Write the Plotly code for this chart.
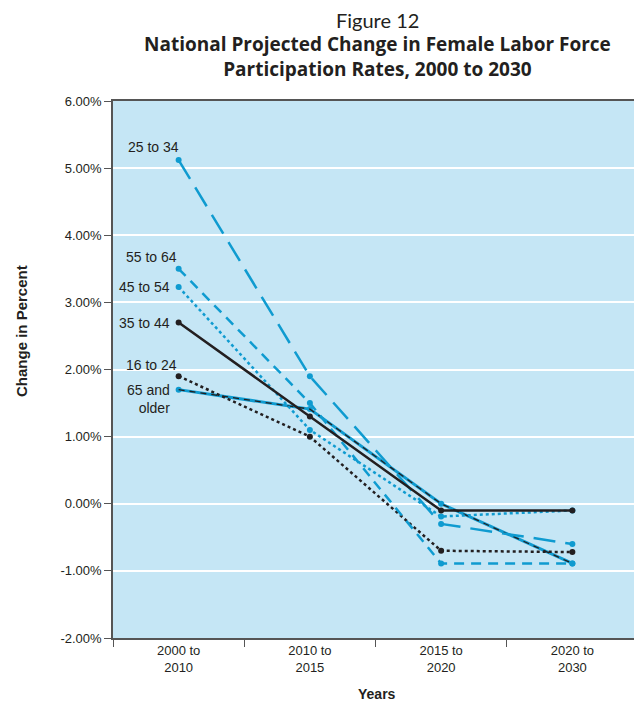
import plotly.graph_objects as go

periods = ["2000 to<br>2010", "2010 to<br>2015", "2015 to<br>2020", "2020 to<br>2030"]

age_16_24 = [1.9, 1.0, -0.7, -0.72]
age_25_34 = [5.12, 1.9, -0.3, -0.6]
age_35_44 = [2.7, 1.3, -0.1, -0.1]
age_45_54 = [3.23, 1.1, -0.19, -0.1]
age_55_64 = [3.5, 1.5, -0.89, -0.89]
age_65_up = [1.7, 1.41, 0.0, -0.89]

y_ticks = [-2, -1, 0, 1, 2, 3, 4, 5, 6]
y_tick_text = ["-2.00%", "-1.00%", "0.00%", "1.00%", "2.00%", "3.00%", "4.00%", "5.00%", "6.00%"]

BLUE = "#0f9bd0"
BLACK = "#231f20"
BG = "#c5e6f5"
SANS = "Liberation Sans, Arial, sans-serif"
TITLE = "Open Sans, Lato, sans-serif"

fig = go.Figure()

def add_line(y, name, color, dash, width=2.2, msize=6, mcolor=None):
    fig.add_trace(go.Scatter(
        x=periods, y=y, name=name, mode="lines+markers",
        line=dict(color=color, width=width, dash=dash),
        marker=dict(color=mcolor or color, size=msize),
        showlegend=False,
    ))

# 65 and older: blue solid with a black dashed line on top
add_line(age_65_up, "65 and older", BLUE, "solid", width=3)
fig.add_trace(go.Scatter(
    x=periods, y=age_65_up, mode="lines", showlegend=False,
    line=dict(color=BLACK, width=1.3, dash="6px,5px"),
))
add_line(age_16_24, "16 to 24", BLACK, "dot", width=2.5)
add_line(age_45_54, "45 to 54", BLUE, "dot", width=2.5)
add_line(age_55_64, "55 to 64", BLUE, "10px,7px", width=2.5)
add_line(age_25_34, "25 to 34", BLUE, "22px,10px", width=2.5)
add_line(age_35_44, "35 to 44", BLACK, "solid", width=2.5)

labels = [
    ("25 to 34", age_25_34[0], 13, 2),
    ("55 to 64", age_55_64[0], 12, 0),
    ("45 to 54", age_45_54[0], 0, -7),
    ("35 to 44", age_35_44[0], 0, -7),
    ("16 to 24", age_16_24[0], 11, 0),
]
for text, yv, ys, xs in labels:
    fig.add_annotation(
        x=periods[0], y=yv, text=text, showarrow=False,
        xanchor="right", yanchor="middle", xshift=xs, yshift=ys,
        font=dict(family=SANS, size=14, color=BLACK),
    )
fig.add_annotation(
    x=periods[0], y=age_65_up[0], text="65 and<br>older", showarrow=False,
    xanchor="right", yanchor="top", xshift=-7, yshift=10, align="right",
    font=dict(family=SANS, size=14, color=BLACK),
)

fig.update_xaxes(
    type="category", range=[-0.5, 3.5], tickson="boundaries",
    ticks="outside", ticklen=7, tickcolor="#555", tickwidth=1.2,
    showgrid=False, showline=True, linecolor="#555", linewidth=1.5, mirror=True,
    tickfont=dict(family=SANS, size=13, color=BLACK),
)
fig.update_yaxes(
    range=[-2, 6], tickvals=y_ticks, ticktext=y_tick_text,
    ticks="outside", ticklen=7, tickcolor="#555", tickwidth=1.2,
    showgrid=True, gridcolor="white", gridwidth=1.5, zeroline=False,
    showline=True, linecolor="#555", linewidth=1.5, mirror=True,
    tickfont=dict(family=SANS, size=13, color=BLACK),
)

fig.add_annotation(
    xref="paper", yref="paper", x=0.503, y=1.151, text="Figure 12", showarrow=False,
    font=dict(family="Lato, sans-serif", size=20, color=BLACK), yanchor="middle",
)
fig.add_annotation(
    xref="paper", yref="paper", x=0.503, y=1.082,
    text="<b>National Projected Change in Female Labor Force<br>Participation Rates, 2000 to 2030</b>",
    showarrow=False, font=dict(family=TITLE, size=19, color=BLACK), yanchor="middle",
)
fig.add_annotation(
    xref="paper", yref="paper", x=0.503, y=-0.104, text="<b>Years</b>", showarrow=False,
    font=dict(family=SANS, size=14, color=BLACK), yanchor="middle",
)
fig.add_annotation(
    xref="paper", yref="paper", x=-0.173, y=0.572, text="<b>Change in Percent</b>", showarrow=False,
    textangle=-90, font=dict(family=SANS, size=15, color=BLACK), xanchor="center",
)

# the page adds an 8px body margin, so the figure is drawn 8px smaller
fig.update_layout(
    width=634, height=693,
    margin=dict(l=105, r=2, t=93, b=63),
    plot_bgcolor=BG, paper_bgcolor="white",
)

fig.write_html("out.html")
